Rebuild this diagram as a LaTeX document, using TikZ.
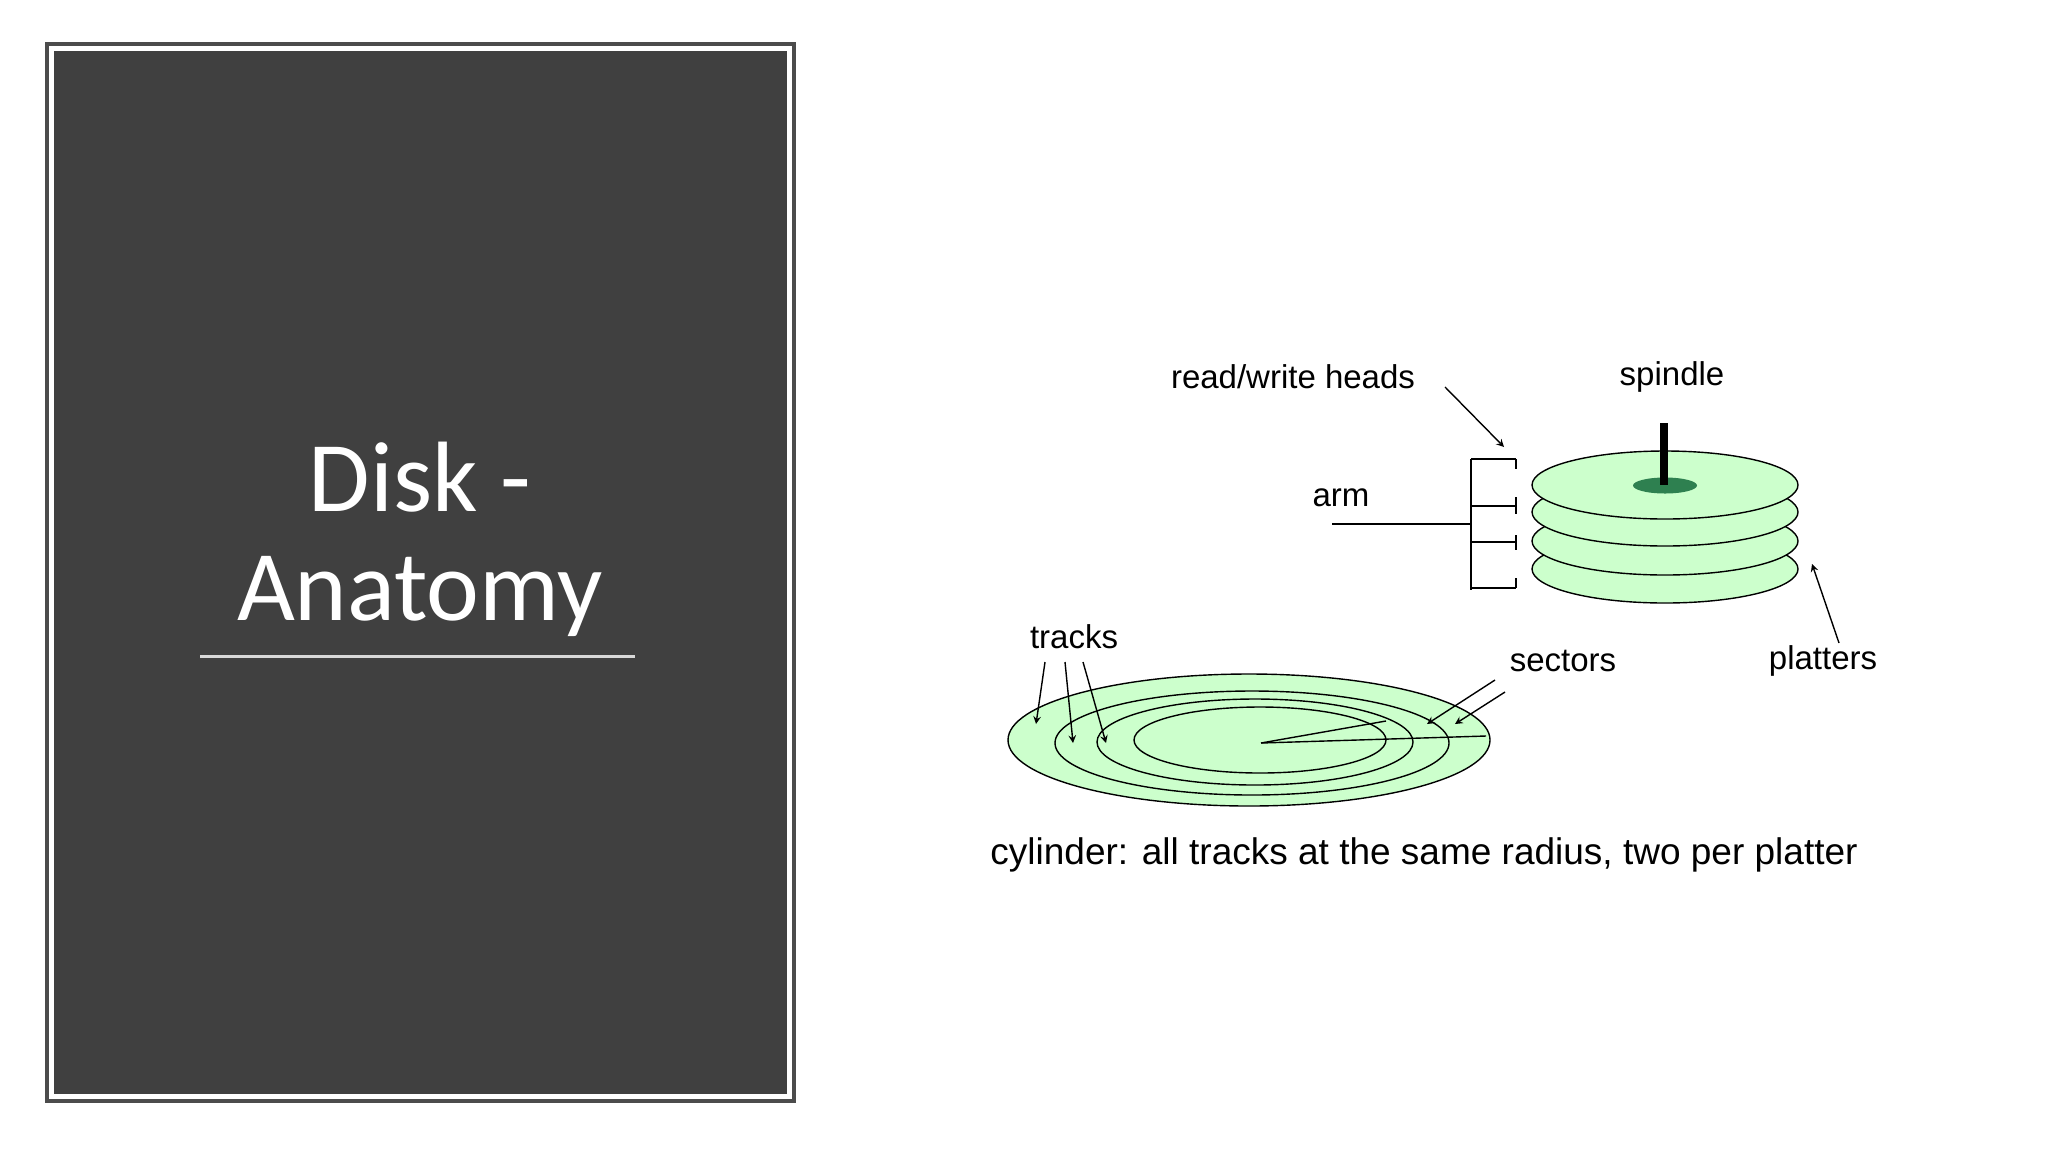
\documentclass[tikz,border=0pt]{standalone}
\usepackage{fontspec}
\setmainfont{Liberation Sans}
\newfontfamily\titlefont{Carlito}
\definecolor{hub}{HTML}{2E8050}
\begin{document}
\begin{tikzpicture}[x={(0.5pt,0)},y={(0,-0.5pt)},
  lbl/.style={font=\fontsize{16.5}{18}\selectfont,inner sep=0},
  disk/.style={draw=black,fill=green!20,line width=0.7pt},
  ln/.style={draw=black,line width=0.7pt},
  arr/.style={ln,-stealth}]
\useasboundingbox (0,0) rectangle (2048,1152);
\fill[white] (0,0) rectangle (2048,1152);
% left panel
\draw[line width=2pt,draw=black!70] (47,44) rectangle (794,1101);
\fill[black!75] (54,51) rectangle (787,1094);
\node[text=white,font=\titlefont\fontsize{50}{56}\selectfont] (t1) at (420,477) {Disk -};
\node[text=white,font=\titlefont\fontsize{50}{56}\selectfont] (t2) at (420,596) {Anatomy};
\draw[white!85!black,line width=1.5pt] (200,656) -- (635,656);
% platter stack
\foreach \cy in {569,541,512,485}{\draw[disk] (1665,\cy) ellipse [x radius=133,y radius=34];}
\fill[hub] (1665,485.5) ellipse [x radius=32,y radius=8];
\draw[line width=4pt] (1664,423) -- (1664,485);
% arm
\coordinate (armL) at (1332,524);
\coordinate (armR) at (1471,524);
\draw[ln] (1471,459) -- (1471,590);
\draw[ln] (armL) -- (armR);
\foreach \hy in {459,506,542,588}{\draw[ln] (1471,\hy) -- (1516,\hy);}
\draw[ln] (1516,459) -- (1516,469);
\draw[ln] (1516,497) -- (1516,514);
\draw[ln] (1516,535) -- (1516,550);
\draw[ln] (1516,578) -- (1516,588);
% flat platter
\draw[disk] (1249,740) ellipse [x radius=241,y radius=66];
\draw[disk] (1252,743) ellipse [x radius=197,y radius=52];
\draw[disk] (1255,742) ellipse [x radius=158,y radius=43];
\draw[disk] (1260,740) ellipse [x radius=126,y radius=33];
\coordinate (ctr) at (1261,743);
\coordinate (s1) at (1486,736);
\coordinate (s2) at (1386,721);
\draw[ln] (ctr) -- (s1);
\draw[ln] (ctr) -- (s2);
% labels
\node[lbl] (rw) at (1293,377) {read/write heads};
\node[lbl] (sp) at (1672,377) {spindle};
\node[lbl] (arm) at (1341,498) {arm};
\node[lbl] (tr) at (1074,637) {tracks};
\node[lbl] (se) at (1563,661) {sectors};
\node[lbl] (pl) at (1823,661) {platters};
\node[lbl,font=\fontsize{18.5}{20}\selectfont] (cap) at (1424,855) {cylinder: all tracks at the same radius, two per platter};
% arrows
\coordinate (a1s) at (1445,387); \coordinate (a1e) at (1504,447);
\draw[arr] (a1s) -- (a1e);
\coordinate (a2s) at (1839,643); \coordinate (a2e) at (1812,564);
\draw[arr] (a2s) -- (a2e);
\coordinate (a3s) at (1495,680); \coordinate (a3e) at (1427,724);
\draw[arr] (a3s) -- (a3e);
\coordinate (a4s) at (1505,692); \coordinate (a4e) at (1455,724);
\draw[arr] (a4s) -- (a4e);
\coordinate (t1s) at (1045,662); \coordinate (t1e) at (1036,724);
\coordinate (t2s) at (1065,662); \coordinate (t2e) at (1073,743);
\coordinate (t3s) at (1083,662); \coordinate (t3e) at (1106,743);
\draw[arr] (t1s) -- (t1e);
\draw[arr] (t2s) -- (t2e);
\draw[arr] (t3s) -- (t3e);
\end{tikzpicture}
\end{document}
